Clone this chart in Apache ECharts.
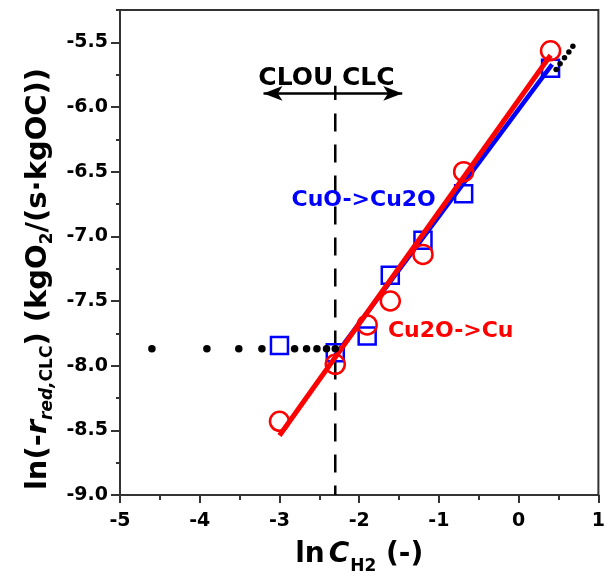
<!DOCTYPE html>
<html><head><meta charset="utf-8">
<script src="https://cdn.jsdelivr.net/npm/echarts@6/dist/echarts.min.js"></script>
<style>html,body{margin:0;padding:0;background:#fff;}#c{width:608px;height:586px;}</style>
</head><body><div id="c"></div>
<script>
// ---- data ----
const lnC = [-3.0, -2.3, -1.9, -1.61, -1.2, -0.69, 0.4];
const cuoToCu2o = [-7.845, -7.90, -7.77, -7.30, -7.03, -6.67, -5.70];
const cu2oToCu = [-8.43, -7.99, -7.685, -7.50, -7.14, -6.50, -5.565];
const fitCuoX = [-2.3, 0.42];
const fitCuoY = [-7.92, -5.67];
const fitCu2oX = [-3.0, 0.4];
const fitCu2oY = [-8.54, -5.60];
const dotsX = [-4.6, -3.91, -3.51, -3.22, -2.81, -2.66, -2.53, -2.41, -2.3];
const dotsY = [-7.87, -7.87, -7.87, -7.87, -7.87, -7.87, -7.87, -7.87, -7.87];
const dotsHighX = [0.47, 0.52, 0.575, 0.63, 0.68];
const dotsHighY = [-5.71, -5.665, -5.62, -5.575, -5.53];
const boundaryX = -2.3;
const boundaryTickY = [-5.835, -5.945];
const boundaryDashY = [-6.05, -9.0];
const arrowX = [-3.20, -1.46];
const arrowY = -5.895;
const annoText = ['CLOU CLC', 'CuO->Cu2O', 'Cu2O->Cu'];
const annoX = [-2.41, -2.855, -1.646];
const annoY = [-5.78, -6.72, -7.735];
const xTicks = [-5, -4, -3, -2, -1, 0, 1];
const xMinorTicks = [-4.5, -3.5, -2.5, -1.5, -0.5, 0.5];
const yTicks = [-9.0, -8.5, -8.0, -7.5, -7.0, -6.5, -6.0, -5.5];
const yMinorTicks = [-8.75, -8.25, -7.75, -7.25, -6.75, -6.25, -5.75, -5.25];

const FONT = 'DejaVu Sans';
const pairs = (xs, ys) => xs.map((x, i) => [x, ys[i]]);
const annoColor = ['#000000', '#0000ff', '#ff0000'];

const chart = echarts.init(document.getElementById('c'), null, {renderer: 'canvas'});
const option = {
  animation: false,
  backgroundColor: '#fff',
  grid: {left: 120, right: 7, top: 10, bottom: 91, show: true, borderColor: '#333', borderWidth: 2, backgroundColor: 'transparent'},
  xAxis: [{
    type: 'value', min: -5, max: 1, interval: 1,
    axisLine: {show: true, onZero: false, lineStyle: {color: '#333', width: 2}},
    axisTick: {show: true, length: 8, lineStyle: {color: '#333', width: 2}, customValues: xTicks},
    axisLabel: {show: true, margin: 17, customValues: xTicks, color: '#000', fontFamily: FONT, fontWeight: 'bold', fontSize: 19, formatter: v => String(v)},
    splitLine: {show: false},
    name: '{m|ln}{mi|C}{s|H2}{m| (-)}',
    nameLocation: 'middle', nameGap: 39,
    nameTextStyle: {
      rich: {
        m: {fontFamily: FONT, fontWeight: 'bold', fontSize: 28, color: '#000'},
        mi: {fontFamily: FONT, fontWeight: 'bold', fontStyle: 'italic', fontSize: 28, color: '#000', padding: [0, 1, 0, 4]},
        s: {fontFamily: FONT, fontWeight: 'bold', fontSize: 17, color: '#000', padding: [24, 0, 0, 0]}
      }
    }
  }, {
    type: 'value', min: -5, max: 1, interval: 1, position: 'bottom',
    axisLine: {show: false, onZero: false},
    axisTick: {show: true, length: 5, lineStyle: {color: '#333', width: 2}, customValues: xMinorTicks},
    axisLabel: {show: false}, splitLine: {show: false}
  }],
  yAxis: [{
    type: 'value', min: -9, max: -5.25, interval: 0.5,
    axisLine: {show: true, onZero: false, lineStyle: {color: '#333', width: 2}},
    axisTick: {show: true, length: 9, lineStyle: {color: '#333', width: 2}, customValues: yTicks},
    axisLabel: {show: true, margin: 12, customValues: yTicks, color: '#000', fontFamily: FONT, fontWeight: 'bold', fontSize: 19, formatter: v => v.toFixed(1)},
    splitLine: {show: false}
  }, {
    type: 'value', min: -9, max: -5.25, interval: 0.5, position: 'left',
    axisLine: {show: false, onZero: false},
    axisTick: {show: true, length: 4, lineStyle: {color: '#333', width: 2}, customValues: yMinorTicks},
    axisLabel: {show: false}, splitLine: {show: false}
  }],
  graphic: [{
    type: 'text', x: 38, y: 279, rotation: Math.PI / 2,
    style: {
      text: '{m|ln(-}{mi|r}{si|red,}{s|CLC}{m|) (kgO}{s|2}{m|/(s·kgOC))}',
      align: 'center', verticalAlign: 'middle',
      rich: {
        m: {fontFamily: FONT, fontWeight: 'bold', fontSize: 29, fill: '#000', color: '#000'},
        mi: {fontFamily: FONT, fontWeight: 'bold', fontStyle: 'italic', fontSize: 29, fill: '#000', color: '#000'},
        s: {fontFamily: FONT, fontWeight: 'bold', fontSize: 17, fill: '#000', color: '#000', padding: [20, 0, 0, 0]},
        si: {fontFamily: FONT, fontWeight: 'bold', fontStyle: 'italic', fontSize: 17, fill: '#000', color: '#000', padding: [20, 0, 0, 0]}
      }
    }
  }],
  series: [
    {
      type: 'line', data: pairs(fitCuoX, fitCuoY), showSymbol: false, symbol: 'none', z: 2,
      lineStyle: {color: '#0000ff', width: 4.5, opacity: 1}
    },
    {
      type: 'scatter', data: pairs(lnC, cuoToCu2o), symbol: 'rect', symbolSize: 17, z: 3,
      itemStyle: {color: 'rgba(0,0,0,0)', borderColor: '#0000ff', borderWidth: 2.5, opacity: 1}
    },
    {
      type: 'scatter', data: pairs(lnC, cu2oToCu), symbol: 'circle', symbolSize: 19, z: 3,
      itemStyle: {color: 'rgba(0,0,0,0)', borderColor: '#ff0000', borderWidth: 2.5, opacity: 1}
    },
    {
      type: 'line', data: pairs(fitCu2oX, fitCu2oY), showSymbol: false, symbol: 'none', z: 4,
      lineStyle: {color: '#ff0000', width: 5, opacity: 1}
    },
    {
      type: 'scatter', data: pairs(dotsX, dotsY), symbol: 'circle', symbolSize: 7.5, z: 5,
      itemStyle: {color: '#000', opacity: 1}
    },
    {
      type: 'scatter', data: pairs(dotsHighX, dotsHighY), symbol: 'circle', symbolSize: 5.5, z: 5,
      itemStyle: {color: '#000', opacity: 1}
    },
    {
      type: 'line', data: [[boundaryX, boundaryDashY[0]], [boundaryX, boundaryDashY[1]]], showSymbol: false, symbol: 'none', z: 1,
      lineStyle: {color: '#000', width: 2.5, type: [18, 13]}
    },
    {
      type: 'line', data: [[boundaryX, boundaryTickY[0]], [boundaryX, boundaryTickY[1]]], showSymbol: false, symbol: 'none', z: 6,
      lineStyle: {color: '#000', width: 2.5},
      markLine: {
        silent: true, symbol: ['arrow', 'arrow'], symbolSize: [11, 19],
        label: {show: false},
        lineStyle: {color: '#000', width: 2.5, type: 'solid', opacity: 1},
        data: [[{coord: [arrowX[0], arrowY]}, {coord: [arrowX[1], arrowY]}]]
      }
    },
    {
      type: 'scatter', symbolSize: 1, z: 7, itemStyle: {color: 'rgba(0,0,0,0)', opacity: 1},
      data: annoText.map((t, i) => ({
        value: [annoX[i], annoY[i]],
        label: {
          show: true, formatter: t, color: annoColor[i], opacity: 1,
          position: i === 0 ? 'inside' : 'right', distance: 0,
          align: i === 0 ? 'center' : 'left', verticalAlign: 'middle',
          fontFamily: FONT, fontWeight: 'bold', fontSize: i === 0 ? 25 : 22
        }
      }))
    }
  ]
};
chart.setOption(option);
</script></body></html>
